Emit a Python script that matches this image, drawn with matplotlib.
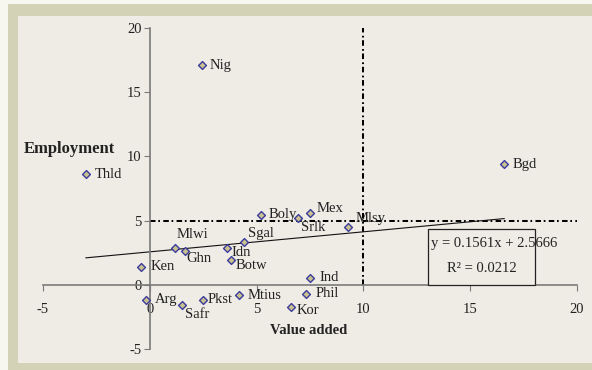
import matplotlib
matplotlib.use("Agg")
import matplotlib.pyplot as plt
from matplotlib.patches import Rectangle

plt.rcParams['font.family'] = ['Liberation Serif', 'DejaVu Serif']
plt.rcParams['axes.unicode_minus'] = False

# data: value added (x) vs employment (y)
countries = ["Nig", "Thld", "Bgd", "Boly", "Srlk", "Mex", "Mlsy", "Mlwi", "Ghn", "Idn",
             "Sgal", "Botw", "Ken", "Arg", "Safr", "Pkst", "Mtius", "Kor", "Phil", "Ind"]
value_added = [2.43, -2.99, 16.59, 5.19, 6.92, 7.52, 9.30, 1.17, 1.64, 3.60,
               4.40, 3.78, -0.42, -0.19, 1.50, 2.49, 4.17, 6.60, 7.33, 7.52]
employment = [17.1, 8.6, 9.4, 5.47, 5.23, 5.6, 4.5, 2.9, 2.66, 2.9,
              3.3, 1.95, 1.4, -1.17, -1.55, -1.17, -0.8, -1.72, -0.7, 0.55]
# label offsets in pixels (dx, dy) from each marker
label_offsets = [(8, 0), (9, 0), (8, 0), (8, 0), (3, -10), (6, 4), (7, 9), (2, 13), (2, -8), (5, -5),
                 (4, 9), (5, -6), (10, 0), (9, 0), (3, -10), (5, 0), (9, 0), (6, -4), (9, 0), (9, 0)]

slope, intercept = 0.1561, 2.5666
r2 = 0.0212
ticks = [-5, 0, 5, 10, 15, 20]

W, H = 592, 370
fig = plt.figure(figsize=(W / 100, H / 100), dpi=100)
fig.patch.set_facecolor("#f7f6ef")
# beige frame and light panel
fig.patches.append(Rectangle((8 / W, 0), 1, 1 - 4 / H, transform=fig.transFigure,
                             facecolor="#d3d1b6", edgecolor="none", zorder=-2))
fig.patches.append(Rectangle((18 / W, 7 / H), 1, 1 - 23 / H, transform=fig.transFigure,
                             facecolor="#efece6", edgecolor="none", zorder=-1))

ax = fig.add_axes([43 / W, 21 / H, 534 / W, 321 / H])
ax.set_zorder(2)
ax.set_facecolor("none")
ax.set_xlim(-5, 20)
ax.set_ylim(-5, 20)

for s in ["top", "right"]:
    ax.spines[s].set_visible(False)
for s in ["left", "bottom"]:
    ax.spines[s].set_position(("data", 0))
    ax.spines[s].set_color("#7a7a7a")
    ax.spines[s].set_linewidth(1.2)
ax.set_xticks(ticks)
ax.set_yticks(ticks)
ax.tick_params(axis="both", direction="out", length=4, color="#7a7a7a", labelsize=10.5,
               labelcolor="#222222")
ax.tick_params(axis="x", pad=9)
ax.tick_params(axis="y", pad=2)

# reference lines (dash-dot)
dashdot = (0, (2.75, 1.35, 0.85, 1.65))
ax.plot([0, 20], [5, 5], color="black", lw=1.45, linestyle=dashdot)
ax.plot([10, 10], [0, 20], color="black", lw=1.45, linestyle=dashdot)

# trend line over data range
x0, x1 = min(value_added), max(value_added)
ax.plot([x0, x1], [slope * x0 + intercept, slope * x1 + intercept], color="#111111", lw=0.8)

ax.scatter(value_added, employment, marker="D", s=16, facecolor="#c9c18f",
           edgecolor="#3b3b9c", linewidth=1.0, zorder=5)
for name, x, y, off in zip(countries, value_added, employment, label_offsets):
    ax.annotate(name, (x, y), xytext=off, textcoords="offset pixels",
                ha="left", va="center", fontsize=10.5, color="#222222", zorder=6)

# equation box
ax.add_patch(Rectangle((13.04, 0), 5.0, 4.375, facecolor="#efece6", edgecolor="#222222",
                       lw=0.9, zorder=4))
ax.text(13.15, 3.22, f"y = {slope}x + {intercept}", ha="left", va="center",
        fontsize=10.5, color="#222222", zorder=6)
ax.text(15.55, 1.25, f"R² = {r2}", ha="center", va="center",
        fontsize=10.5, color="#222222", zorder=6)

fig.text(69 / W, 1 - 149 / H, "Employment", ha="center", va="center",
         fontsize=12, fontweight="bold", color="#222222")
fig.text(309 / W, 1 - 331 / H, "Value added", ha="center", va="center",
         fontsize=10.5, fontweight="bold", color="#222222")

fig.savefig("out.png", dpi=100)
